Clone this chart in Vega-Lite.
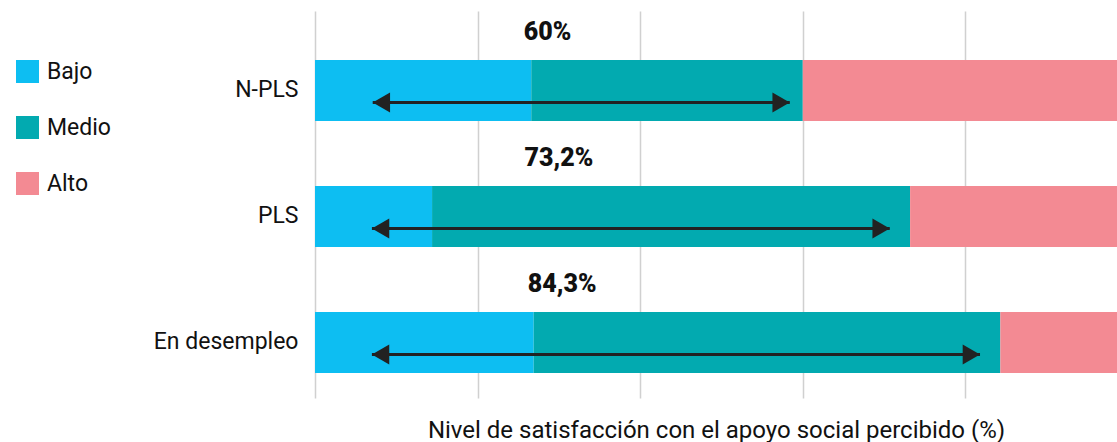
{
  "$schema": "https://vega.github.io/schema/vega-lite/v6.json",
  "width": 802,
  "height": 387,
  "padding": {"left": 16, "top": 11, "right": 0, "bottom": 0},
  "background": "white",
  "config": {
    "view": {"stroke": null},
    "font": "Roboto"
  },
  "datasets": {
    "barras": [
      {"grupo": "N-PLS", "nivel": "Bajo", "orden": 1, "valor": 26.6},
      {"grupo": "N-PLS", "nivel": "Medio", "orden": 2, "valor": 33.4},
      {"grupo": "N-PLS", "nivel": "Alto", "orden": 3, "valor": 40.0},
      {"grupo": "PLS", "nivel": "Bajo", "orden": 1, "valor": 14.4},
      {"grupo": "PLS", "nivel": "Medio", "orden": 2, "valor": 58.8},
      {"grupo": "PLS", "nivel": "Alto", "orden": 3, "valor": 26.8},
      {"grupo": "En desempleo", "nivel": "Bajo", "orden": 1, "valor": 26.9},
      {"grupo": "En desempleo", "nivel": "Medio", "orden": 2, "valor": 57.4},
      {"grupo": "En desempleo", "nivel": "Alto", "orden": 3, "valor": 15.7}
    ],
    "etiquetas": [
      {"grupo": "N-PLS", "texto": "60%", "pos": 28.6},
      {"grupo": "PLS", "texto": "73,2%", "pos": 30.0},
      {"grupo": "En desempleo", "texto": "84,3%", "pos": 30.4}
    ],
    "flechas": [
      {"grupo": "N-PLS", "inicio": 7.1, "fin": 58.4},
      {"grupo": "PLS", "inicio": 7.0, "fin": 70.7},
      {"grupo": "En desempleo", "inicio": 7.0, "fin": 81.8}
    ]
  },
  "layer": [
    {
      "data": {"name": "barras"},
      "mark": {"type": "bar", "clip": true},
      "encoding": {
        "y": {
          "field": "grupo",
          "type": "nominal",
          "sort": ["N-PLS", "PLS", "En desempleo"],
          "scale": {"paddingInner": 0.516, "paddingOuter": 0.2937, "align": 0.662},
          "axis": {
            "title": null,
            "ticks": false,
            "domain": false,
            "labelFontSize": 23,
            "labelColor": "#111111",
            "labelPadding": 17,
            "labelFont": "Roboto"
          }
        },
        "x": {
          "field": "valor",
          "type": "quantitative",
          "stack": "zero",
          "scale": {"domain": [0, 98.65], "nice": false},
          "axis": {
            "values": [0, 20, 40, 60, 80],
            "labels": false,
            "ticks": false,
            "domain": false,
            "grid": true,
            "gridColor": "#d0d0d0",
            "gridWidth": 1.5,
            "title": "Nivel de satisfacción con el apoyo social percibido (%)",
            "titleFont": "Roboto",
            "titleFontSize": 24,
            "titleFontWeight": "normal",
            "titleColor": "#111111",
            "titlePadding": 20
          }
        },
        "color": {
          "field": "nivel",
          "type": "nominal",
          "scale": {"domain": ["Bajo", "Medio", "Alto"], "range": ["#0DBEF2", "#02AAB0", "#F38A93"]},
          "legend": {
            "title": null,
            "orient": "none",
            "legendX": -299,
            "legendY": 49,
            "padding": 0,
            "symbolType": "square",
            "symbolSize": 529,
            "symbolStrokeWidth": 0,
            "symbolOpacity": 1,
            "labelFontSize": 23,
            "labelColor": "#111111",
            "labelOffset": 8,
            "rowPadding": 32,
            "labelFont": "Roboto"
          }
        },
        "order": {"field": "orden", "type": "quantitative"}
      }
    },
    {
      "data": {"name": "flechas"},
      "mark": {"type": "rule", "color": "#222222", "strokeWidth": 3, "yOffset": 12},
      "encoding": {
        "y": {"field": "grupo", "type": "nominal", "sort": ["N-PLS", "PLS", "En desempleo"]},
        "x": {"field": "inicio", "type": "quantitative"},
        "x2": {"field": "fin"}
      }
    },
    {
      "data": {"name": "flechas"},
      "mark": {"type": "point", "shape": "M0,0L2,-1.15L2,1.15Z", "filled": true, "color": "#222222", "opacity": 1, "size": 300, "strokeWidth": 0, "yOffset": 12},
      "encoding": {
        "y": {"field": "grupo", "type": "nominal", "sort": ["N-PLS", "PLS", "En desempleo"]},
        "x": {"field": "inicio", "type": "quantitative"}
      }
    },
    {
      "data": {"name": "flechas"},
      "mark": {"type": "point", "shape": "M0,0L-2,-1.15L-2,1.15Z", "filled": true, "color": "#222222", "opacity": 1, "size": 300, "strokeWidth": 0, "yOffset": 12},
      "encoding": {
        "y": {"field": "grupo", "type": "nominal", "sort": ["N-PLS", "PLS", "En desempleo"]},
        "x": {"field": "fin", "type": "quantitative"}
      }
    },
    {
      "data": {"name": "etiquetas"},
      "mark": {"type": "text", "font": "Roboto", "fontSize": 25, "fontWeight": 900, "color": "#111111", "baseline": "middle", "align": "center", "dy": -58},
      "encoding": {
        "y": {"field": "grupo", "type": "nominal", "sort": ["N-PLS", "PLS", "En desempleo"]},
        "x": {"field": "pos", "type": "quantitative"},
        "text": {"field": "texto"}
      }
    }
  ]
}
